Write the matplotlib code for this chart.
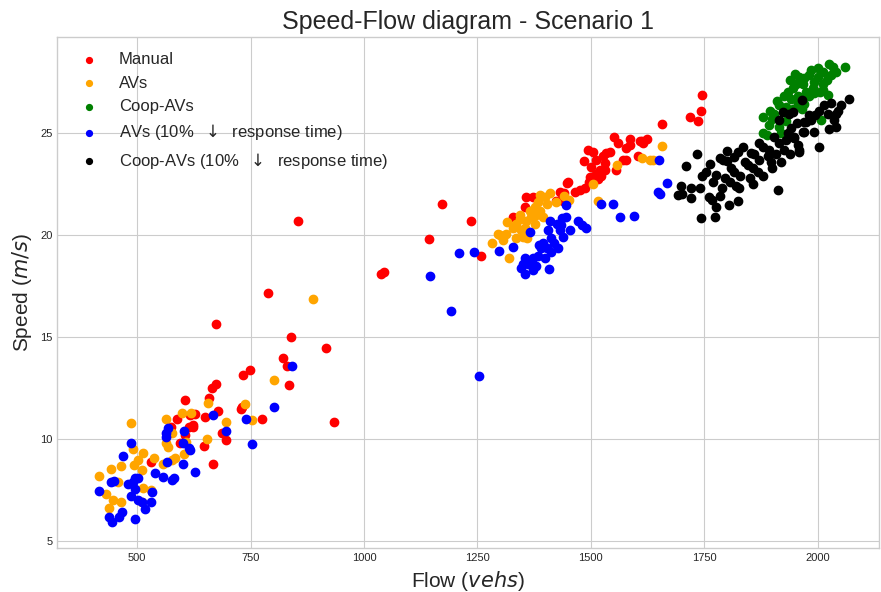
import matplotlib
matplotlib.use("Agg")
import matplotlib.pyplot as plt

# flow (veh/h) and speed (m/s) per scenario
manual_flow = [531, 606, 587, 624, 628, 606, 595, 574, 674, 839, 821, 830, 835, 734, 749, 665, 673, 659,
               731, 729, 679, 650, 617, 623, 615, 775, 687, 697, 648, 667, 854, 916, 934, 1038, 1045, 788,
               1173, 1237, 1144, 1258, 1358, 1373, 1355, 1329, 1432, 1439, 1448, 1424, 1551, 1560, 1587,
               1586, 1608, 1624, 1615, 1578, 1494, 1504, 1534, 1543, 1527, 1604, 1571, 1578, 1485, 1511,
               1531, 1501, 1520, 1531, 1555, 1512, 1523, 1516, 1498, 1505, 1496, 1450, 1465, 1476, 1487,
               1440, 1439, 1746, 1742, 1719, 1737, 1658, 1614]
manual_speed = [8.9, 11.9, 11.0, 10.7, 11.26, 10.2, 9.8, 10.6, 15.64, 15.0, 14.0, 13.6, 12.65, 13.14, 13.4,
                12.5, 12.7, 12.0, 11.6, 11.5, 11.4, 11.1, 11.2, 10.6, 10.6, 11.0, 10.3, 9.95, 9.66, 8.8,
                20.7, 14.45, 10.85, 18.1, 18.2, 17.16, 21.55, 20.7, 19.8, 18.97, 21.88, 21.88, 21.4, 20.9,
                22.12, 21.96, 22.56, 21.7, 24.8, 24.5, 24.7, 24.4, 24.6, 24.7, 24.5, 24.25, 24.2, 24.08,
                24.03, 24.08, 23.9, 23.9, 23.7, 23.68, 23.63, 23.7, 23.55, 23.35, 23.2, 23.19, 23.2, 23.0,
                22.9, 22.76, 22.86, 22.7, 22.6, 22.6, 22.1, 22.2, 22.29, 22.08, 21.7, 26.86, 26.1, 25.8,
                25.6, 25.47, 24.62]

avs_flow = [486, 563, 600, 619, 578, 564, 569, 490, 512, 537, 501, 493, 558, 576, 584, 465, 443, 510, 415,
            457, 514, 530, 432, 446, 465, 511, 437, 802, 738, 657, 753, 697, 653, 604, 608, 888, 1283, 1296,
            1320, 1300, 1314, 1316, 1336, 1336, 1351, 1355, 1344, 1358, 1369, 1377, 1366, 1377, 1384, 1388,
            1399, 1403, 1388, 1395, 1347, 1329, 1307, 1360, 1424, 1410, 1380, 1345, 1440, 1557, 1614, 1630,
            1637, 1504, 1452, 1516, 1657]
avs_speed = [10.8, 11.0, 11.3, 11.3, 10.3, 9.8, 9.6, 9.5, 9.35, 9.1, 9.0, 8.75, 8.8, 9.0, 9.07, 8.7, 8.56,
             8.5, 8.2, 7.9, 7.6, 7.53, 7.34, 7.0, 6.93, 6.93, 6.63, 12.9, 11.75, 11.8, 10.93, 10.85, 10.0,
             9.3, 9.87, 16.86, 19.6, 20.05, 18.86, 20.0, 20.08, 20.65, 20.57, 19.84, 19.9, 20.33, 20.8, 20.7,
             20.9, 20.57, 21.2, 21.4, 21.63, 21.96, 21.88, 21.55, 21.2, 20.9, 20.25, 20.33, 19.75, 19.84,
             21.63, 22.05, 21.0, 21.0, 21.9, 23.43, 23.76, 23.68, 23.7, 22.5, 21.75, 21.7, 24.38]

coop_flow = [1879, 1879, 1894, 1905, 1916, 1931, 1957, 1920, 2026, 2061, 2033, 2012, 2030, 2000, 1982, 1960,
             1953, 1967, 1993, 2012, 2012, 1990, 1975, 1946, 1942, 1957, 1982, 1993, 1971, 2024, 2008, 1900,
             1910, 1925, 1935, 1940, 1950, 1970, 1985, 2000, 2005, 1965, 1945, 1930, 1895, 1915, 1888, 2020,
             2040]
coop_speed = [25.8, 25.0, 25.4, 25.96, 26.37, 26.3, 26.45, 25.0, 28.4, 28.25, 28.25, 28.0, 27.84, 27.76,
              27.84, 27.76, 27.43, 27.43, 27.5, 27.43, 27.14, 27.2, 27.03, 27.2, 26.7, 26.8, 26.8, 26.95,
              26.45, 26.86, 25.67, 25.7, 26.6, 26.8, 27.0, 27.6, 27.9, 27.7, 28.1, 28.2, 27.0, 26.2, 26.2,
              25.6, 26.1, 25.3, 24.9, 27.6, 28.0]

avs10_flow = [486, 470, 569, 564, 564, 602, 604, 615, 617, 567, 601, 628, 540, 558, 576, 582, 496, 503, 492,
              481, 448, 442, 496, 415, 532, 486, 503, 510, 530, 518, 466, 461, 437, 444, 496, 842, 802, 739,
              697, 667, 753, 1210, 1242, 1145, 1191, 1253, 1298, 1366, 1410, 1406, 1426, 1432, 1439, 1413,
              1395, 1391, 1403, 1413, 1427, 1384, 1373, 1355, 1351, 1362, 1347, 1373, 1355, 1408, 1329, 1445,
              1523, 1548, 1564, 1595, 1648, 1446, 1437, 1472, 1481, 1489, 1454, 1435, 1650, 1668, 1652, 1420,
              1385, 1400, 1380]
avs10_speed = [9.8, 9.2, 10.55, 10.33, 10.1, 9.8, 10.4, 9.57, 9.46, 8.86, 8.8, 8.4, 8.35, 8.15, 8.0, 8.1,
               8.1, 8.1, 7.9, 7.83, 7.94, 7.88, 7.58, 7.47, 7.42, 7.2, 7.04, 6.93, 6.93, 6.6, 6.44, 6.19,
               6.19, 5.95, 6.1, 13.58, 11.6, 11.0, 10.4, 11.2, 9.75, 19.13, 19.2, 18.0, 16.3, 13.1, 19.23,
               20.17, 20.7, 20.25, 20.57, 20.25, 19.92, 19.84, 19.6, 19.35, 19.35, 19.18, 19.35, 19.0, 18.86,
               18.86, 18.6, 18.6, 18.37, 18.28, 18.12, 18.32, 19.4, 21.47, 21.55, 21.52, 20.87, 20.93, 22.1,
               20.9, 20.85, 20.7, 20.5, 20.33, 20.25, 20.5, 23.68, 22.56, 22.0, 19.6, 19.5, 18.9, 18.5]

coop10_flow = [1734, 1711, 1762, 1784, 1801, 1815, 1800, 1810, 1777, 1746, 1769, 1795, 1806, 1821, 1700, 1692,
               1701, 1720, 1760, 1768, 1777, 1824, 1742, 1773, 1912, 1857, 1826, 1816, 1824, 1791, 1839, 1854,
               1846, 1857, 1868, 1870, 1879, 1894, 1890, 1897, 1920, 1909, 1916, 1931, 1934, 1942, 1949, 1960,
               1957, 1971, 1971, 1924, 1916, 1938, 1966, 1946, 2069, 2052, 2045, 2041, 2022, 2004, 1982, 1986,
               1975, 2036, 2041, 2026, 1993, 1967, 1949, 1960, 2003, 1830, 1850, 1880, 1900, 1925, 1940, 1790,
               1740, 1755, 1835, 1860, 1870, 1905, 1955, 1995, 2015, 2030, 1720, 1785, 1805]
coop10_speed = [23.97, 23.38, 23.48, 23.76, 24.12, 23.84, 23.63, 23.27, 22.94, 22.9, 22.6, 22.78, 22.6, 22.4,
                22.4, 21.96, 22.0, 21.8, 21.88, 21.75, 21.36, 21.7, 20.85, 20.87, 22.24, 22.53, 22.29, 23.1,
                24.08, 23.68, 23.6, 24.03, 23.43, 23.27, 23.1, 24.5, 24.33, 24.17, 23.9, 23.6, 23.6, 24.0,
                24.5, 24.66, 25.0, 25.23, 24.75, 24.08, 24.4, 25.06, 25.55, 26.05, 25.64, 25.96, 26.65, 26.05,
                26.7, 26.37, 26.1, 25.96, 25.96, 26.1, 25.88, 25.64, 25.55, 25.67, 25.28, 25.2, 25.06, 25.06,
                24.8, 24.17, 24.3, 22.9, 22.8, 22.9, 23.3, 24.2, 24.0, 22.3, 22.3, 23.1, 24.3, 24.0, 23.7,
                24.8, 25.5, 25.9, 26.4, 26.5, 22.3, 21.9, 21.5]

plt.style.use("seaborn-v0_8-whitegrid")
plt.rcParams["font.family"] = ["Liberation Sans", "DejaVu Sans"]

fig, ax = plt.subplots(figsize=(8.81, 5.92), dpi=100)
fig.subplots_adjust(left=0.065, right=0.998, bottom=0.074, top=0.937)

ax.scatter(manual_flow, manual_speed, color="red", s=36, label="Manual")
ax.scatter(avs_flow, avs_speed, color="orange", s=36, label="AVs")
ax.scatter(coop_flow, coop_speed, color="green", s=36, label="Coop-AVs")
ax.scatter(avs10_flow, avs10_speed, color="blue", s=36, label=r"AVs (10%  $\downarrow$  response time)")
ax.scatter(coop10_flow, coop10_speed, color="black", s=36,
           label=r"Coop-AVs (10%  $\downarrow$  response time)")

ax.set_xlim(324, 2136)
ax.set_ylim(4.66, 29.7)
ax.set_xticks([500, 750, 1000, 1250, 1500, 1750, 2000])
ax.set_yticks([5, 10, 15, 20, 25])
ax.tick_params(labelsize=8)

ax.set_title("Speed-Flow diagram - Scenario 1", fontsize=18)
ax.set_xlabel("Flow ($vehs$)", fontsize=15)
ax.set_ylabel("Speed ($m/s$)", fontsize=15)
ax.legend(loc="upper left", fontsize=12, markerscale=0.7)

fig.savefig("out.png", dpi=100)
